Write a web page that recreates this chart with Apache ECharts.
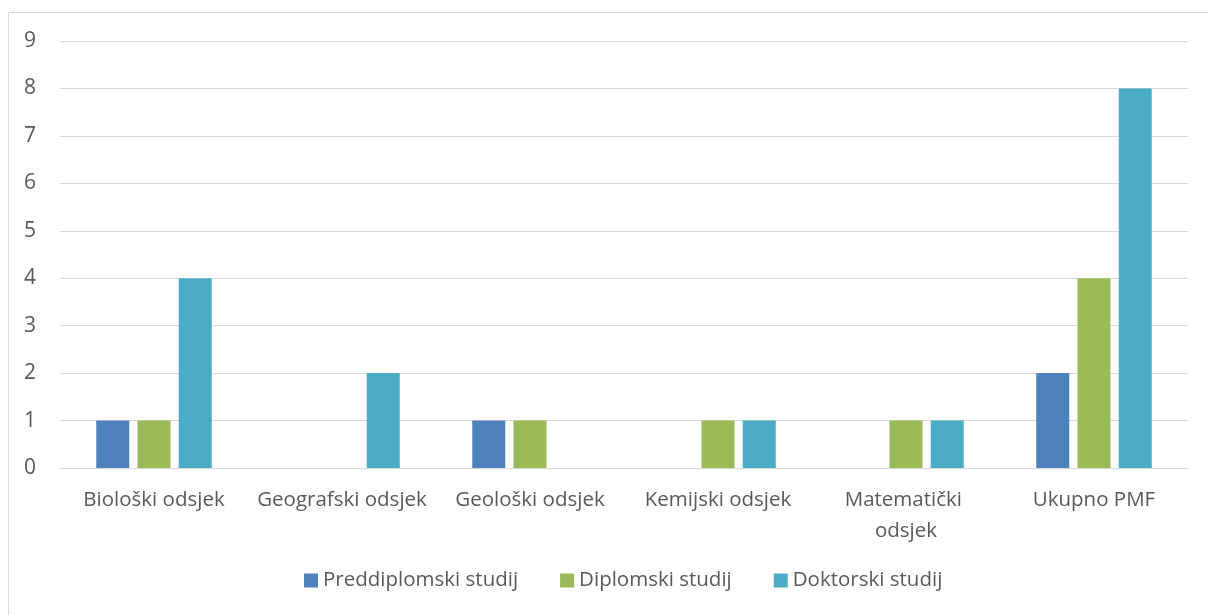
<!DOCTYPE html>
<html>
<head>
<meta charset="utf-8">
<script src="https://cdn.jsdelivr.net/npm/echarts@6/dist/echarts.min.js"></script>
<style>
  html, body { margin: 0; padding: 0; background: #fff; }
  #chart { width: 1208px; height: 615px; }
</style>
</head>
<body>
<div id="chart"></div>
<script>
// kategorije (odsjeci)
const categories = ["Biološki odsjek", "Geografski odsjek", "Geološki odsjek", "Kemijski odsjek", "Matematički odsjek", "Ukupno PMF"];
// broj studenata po razini studija
const preddiplomski = [1, 0, 1, 0, 0, 2];
const diplomski = [1, 0, 1, 1, 1, 4];
const doktorski = [4, 2, 0, 1, 1, 8];
const yTicks = [0, 1, 2, 3, 4, 5, 6, 7, 8, 9];

const textColor = "#595959";
const fontFamily = "'Open Sans', 'Noto Sans', sans-serif";

// nule se ne crtaju
const toBar = arr => arr.map(v => (v === 0 ? null : v));

const chart = echarts.init(document.getElementById("chart"));
chart.setOption({
  animation: false,
  textStyle: { fontFamily: fontFamily, color: textColor },
  graphic: [
    {
      type: "rect",
      shape: { x: 8.5, y: 12.5, width: 1400, height: 800 },
      style: { fill: "none", stroke: "#d9d9d9", lineWidth: 1 },
      silent: true
    }
  ],
  grid: { left: 60, right: 20, top: 41, bottom: 147 },
  legend: {
    bottom: 19,
    left: 299,
    itemWidth: 14,
    itemHeight: 14,
    itemGap: 42,
    itemStyle: { borderWidth: 0 },
    icon: "rect",
    textStyle: { fontSize: 20.5, color: textColor, fontFamily: fontFamily },
    data: ["Preddiplomski studij", "Diplomski studij", "Doktorski studij"]
  },
  xAxis: {
    type: "category",
    data: categories,
    axisLine: { show: true, lineStyle: { color: "#d9d9d9", width: 1 } },
    axisTick: { show: false },
    axisLabel: {
      fontSize: 20.5,
      color: textColor,
      margin: 17,
      width: 180,
      overflow: "break",
      lineHeight: 31,
      interval: 0
    }
  },
  yAxis: {
    type: "value",
    min: yTicks[0],
    max: yTicks[yTicks.length - 1],
    interval: 1,
    axisLine: { show: false },
    axisTick: { show: false },
    axisLabel: { fontSize: 21, color: textColor, margin: 24 },
    splitLine: { lineStyle: { color: "#d9d9d9", width: 1 } }
  },
  series: [
    {
      name: "Preddiplomski studij",
      type: "bar",
      data: toBar(preddiplomski),
      barWidth: 33,
      barGap: "25%",
      itemStyle: { color: "#4f81bd" }
    },
    {
      name: "Diplomski studij",
      type: "bar",
      data: toBar(diplomski),
      barWidth: 33,
      barGap: "25%",
      itemStyle: { color: "#9bbb59" }
    },
    {
      name: "Doktorski studij",
      type: "bar",
      data: toBar(doktorski),
      barWidth: 33,
      barGap: "25%",
      itemStyle: { color: "#4bacc6" }
    }
  ]
});
</script>
</body>
</html>
